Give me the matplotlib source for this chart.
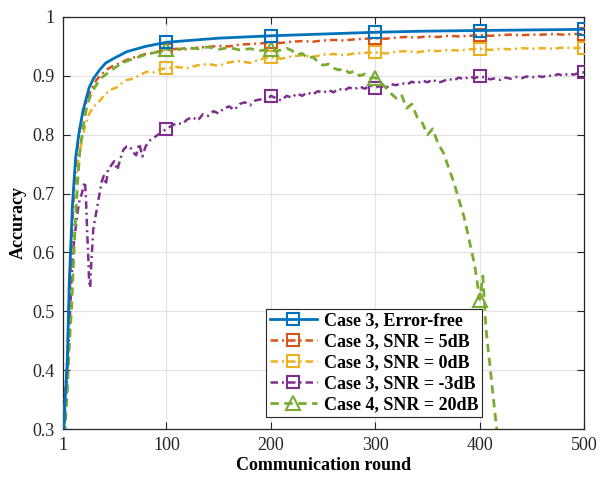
import numpy as np
import matplotlib
matplotlib.use('Agg')
import matplotlib.pyplot as plt

plt.rcParams['font.family'] = ['Liberation Serif', 'DejaVu Serif']

# Case 3, Error-free
x_free = [1, 3, 5, 7, 10, 13, 16, 20, 26, 30, 36, 42, 50, 62, 80, 100, 150, 200, 250, 300, 350, 400, 450, 500]
y_free = [0.27, 0.35, 0.41, 0.55, 0.68, 0.76, 0.80, 0.84, 0.88, 0.895, 0.91, 0.922, 0.93, 0.941, 0.95, 0.957,
          0.964, 0.968, 0.971, 0.974, 0.976, 0.977, 0.978, 0.979]

# Case 3, SNR = 5dB
x_5db = [1, 3, 5, 7, 9, 11, 13, 15, 17, 20, 24, 28, 33, 38, 44, 50, 56, 62, 70, 80, 90, 100,
         110, 120, 130, 140, 150, 160, 170, 180, 190, 200, 210, 220, 230, 240, 250, 260, 270, 280, 290, 300,
         310, 320, 330, 340, 350, 360, 370, 380, 390, 400, 410, 420, 430, 440, 450, 460, 470, 480, 490, 500]
y_5db = [0.27, 0.36, 0.42, 0.52, 0.62, 0.70, 0.75, 0.78, 0.81, 0.835, 0.86, 0.876, 0.893, 0.903, 0.912, 0.918,
         0.922, 0.927, 0.932, 0.937, 0.94, 0.944,
         0.946, 0.945, 0.948, 0.949, 0.951, 0.95, 0.953, 0.954, 0.955, 0.957, 0.956, 0.958, 0.959, 0.958, 0.96,
         0.961, 0.96, 0.962, 0.963, 0.964, 0.963, 0.965, 0.966, 0.965, 0.967, 0.966, 0.968, 0.967, 0.968, 0.969,
         0.968, 0.969, 0.97, 0.969, 0.97, 0.97, 0.971, 0.97, 0.971, 0.971]

# Case 3, SNR = 0dB
x_0db = [1, 3, 5, 7, 9, 11, 13, 15, 17, 20, 23, 26, 30, 35, 40, 46, 52, 57, 62, 68, 74, 81, 88, 94, 100,
         110, 120, 130, 140, 150, 160, 170, 180, 190, 200, 210, 220, 230, 240, 250, 260, 270, 280, 290, 300,
         310, 320, 330, 340, 350, 360, 370, 380, 390, 400, 410, 420, 430, 440, 450, 460, 470, 480, 490, 500]
y_0db = [0.27, 0.35, 0.41, 0.50, 0.60, 0.68, 0.72, 0.75, 0.77, 0.80, 0.82, 0.835, 0.847, 0.855, 0.866, 0.876,
         0.88, 0.887, 0.893, 0.895, 0.901, 0.907, 0.906, 0.911, 0.913,
         0.915, 0.913, 0.918, 0.92, 0.917, 0.923, 0.925, 0.922, 0.928, 0.932, 0.929, 0.933, 0.935, 0.932, 0.936,
         0.937, 0.935, 0.938, 0.939, 0.94, 0.938, 0.941, 0.942, 0.94, 0.943, 0.942, 0.944, 0.943, 0.945, 0.946,
         0.944, 0.946, 0.945, 0.947, 0.946, 0.947, 0.946, 0.948, 0.947, 0.948]

# Case 3, SNR = -3dB
x_m3db = [1, 3, 5, 7, 9, 11, 13, 15, 17, 19, 21, 22, 23, 24, 25, 26, 27, 28, 29, 30, 32, 34, 36, 38, 40, 42,
          44, 46, 48, 50, 53, 56, 59, 62, 65, 68, 71, 74, 77, 80, 84, 88, 92, 96, 100,
          105, 110, 115, 120, 125, 130, 135, 140, 145, 150, 155, 160, 165, 170, 175, 180, 185, 190, 195, 200,
          205, 210, 215, 220, 225, 230, 235, 240, 245, 250, 255, 260, 265, 270, 275, 280, 285, 290, 295, 300,
          305, 310, 315, 320, 325, 330, 335, 340, 345, 350, 355, 360, 365, 370, 375, 380, 385, 390, 395, 400,
          405, 410, 415, 420, 425, 430, 435, 440, 445, 450, 455, 460, 465, 470, 475, 480, 485, 490, 495, 500]
y_m3db = [0.28, 0.33, 0.40, 0.47, 0.55, 0.61, 0.64, 0.67, 0.69, 0.70, 0.715, 0.72, 0.69, 0.64, 0.60, 0.55,
          0.54, 0.58, 0.61, 0.64, 0.66, 0.68, 0.70, 0.72, 0.73, 0.715, 0.74, 0.745, 0.75, 0.755, 0.74, 0.76,
          0.775, 0.78, 0.78, 0.77, 0.765, 0.785, 0.763, 0.78, 0.79, 0.795, 0.80, 0.805, 0.81,
          0.815, 0.82, 0.818, 0.826, 0.83, 0.824, 0.835, 0.832, 0.84, 0.836, 0.845, 0.848, 0.842, 0.852, 0.855,
          0.85, 0.858, 0.86, 0.856, 0.866, 0.862, 0.858, 0.866, 0.863, 0.87, 0.866, 0.872, 0.868, 0.874, 0.871,
          0.876, 0.872, 0.878, 0.875, 0.88, 0.877, 0.882, 0.878, 0.884, 0.88, 0.883, 0.879, 0.886, 0.884, 0.888,
          0.885, 0.89, 0.887, 0.892, 0.889, 0.894, 0.888, 0.891, 0.895, 0.892, 0.897, 0.894, 0.899, 0.896, 0.899,
          0.897, 0.894, 0.896, 0.893, 0.897, 0.895, 0.898, 0.896, 0.899, 0.897, 0.9, 0.898, 0.901, 0.899, 0.903,
          0.9, 0.904, 0.902, 0.905, 0.906]

# Case 4, SNR = 20dB
x_c4 = [1, 3, 5, 7, 9, 11, 13, 15, 17, 20, 24, 28, 33, 38, 44, 50, 56, 62, 70, 80, 90, 100,
        110, 120, 130, 140, 150, 160, 170, 180, 190, 200, 205, 210, 215, 220, 225, 230, 235, 240, 245, 250,
        255, 260, 265, 270, 275, 280, 285, 290, 295, 300, 305, 310, 315, 320, 325, 330, 335, 340, 345, 350,
        355, 360, 365, 370, 375, 380, 385, 390, 395, 400, 403, 406, 409, 412, 415, 417]
y_c4 = [0.22, 0.30, 0.36, 0.44, 0.50, 0.58, 0.66, 0.72, 0.77, 0.81, 0.85, 0.87, 0.885, 0.897, 0.905, 0.913,
        0.92, 0.925, 0.93, 0.936, 0.94, 0.946,
        0.944, 0.948, 0.946, 0.949, 0.945, 0.948, 0.944, 0.946, 0.943, 0.945, 0.942, 0.944, 0.947, 0.943,
        0.936, 0.938, 0.93, 0.932, 0.924, 0.918, 0.92, 0.913, 0.91, 0.912, 0.905, 0.908, 0.9, 0.903, 0.896,
        0.897, 0.889, 0.88, 0.87, 0.862, 0.868, 0.845, 0.852, 0.83, 0.82, 0.80, 0.81, 0.785, 0.77, 0.745,
        0.72, 0.69, 0.66, 0.62, 0.58, 0.52, 0.56, 0.47, 0.42, 0.37, 0.32, 0.29]

mark_rounds = [1, 100, 200, 300, 400, 500]


def mark_idx(xs):
    return [i for i, v in enumerate(xs) if v in mark_rounds]


dashdot = (3, 1.6, 0.8, 1.6)

fig = plt.figure(figsize=(6.06, 4.78), dpi=100)
ax = fig.add_axes([0.104, 0.1025, 0.860, 0.862])

ax.plot(x_free, y_free, '-', color='#0072BD', lw=2.0, marker='s', ms=8, mfc='none', mew=1.5,
        markevery=mark_idx(x_free), label='Case 3, Error-free', zorder=5)
ax.plot(x_5db, y_5db, color='#D95319', lw=1.8, dashes=dashdot, marker='s', ms=8, mfc='none', mew=1.5,
        markevery=mark_idx(x_5db), label='Case 3, SNR = 5dB', zorder=4)
ax.plot(x_0db, y_0db, color='#EDB120', lw=1.8, dashes=dashdot, marker='s', ms=8, mfc='none', mew=1.5,
        markevery=mark_idx(x_0db), label='Case 3, SNR = 0dB', zorder=3)
ax.plot(x_m3db, y_m3db, color='#7E2F8E', lw=1.8, dashes=dashdot, marker='s', ms=8, mfc='none', mew=1.5,
        markevery=mark_idx(x_m3db), label='Case 3, SNR = -3dB', zorder=3)
ax.plot(x_c4, y_c4, color='#77AC30', lw=2.0, dashes=(3, 2), marker='^', ms=10, mfc='none', mew=1.5,
        markevery=mark_idx(x_c4), label='Case 4, SNR = 20dB', zorder=4)

ax.set_xlim(1, 500)
ax.set_ylim(0.3, 1.0)
ax.set_xticks([1, 100, 200, 300, 400, 500])
ax.set_yticks([0.3, 0.4, 0.5, 0.6, 0.7, 0.8, 0.9, 1.0])
ax.set_yticklabels(['0.3', '0.4', '0.5', '0.6', '0.7', '0.8', '0.9', '1'])
ax.tick_params(direction='in', length=5, width=0.8, top=True, right=True, labelsize=13,
               colors='#262626', pad=6)
ax.grid(True, color='#e3e3e3', lw=0.9)
ax.set_axisbelow(True)
for s in ax.spines.values():
    s.set_color('#262626')
    s.set_linewidth(0.9)

ax.set_xlabel('Communication round', fontsize=13, fontweight='bold', labelpad=2)
ax.set_ylabel('Accuracy', fontsize=13, fontweight='bold', labelpad=4)

leg = ax.legend(loc='lower left', bbox_to_anchor=(0.39, 0.029), prop={'weight': 'bold', 'size': 13},
                fancybox=False, edgecolor='#262626', framealpha=1, handlelength=2.6,
                labelspacing=0.22, borderpad=0.2, handletextpad=0.4, borderaxespad=0)
leg.get_frame().set_linewidth(0.8)

fig.savefig('out.png', dpi=100)
